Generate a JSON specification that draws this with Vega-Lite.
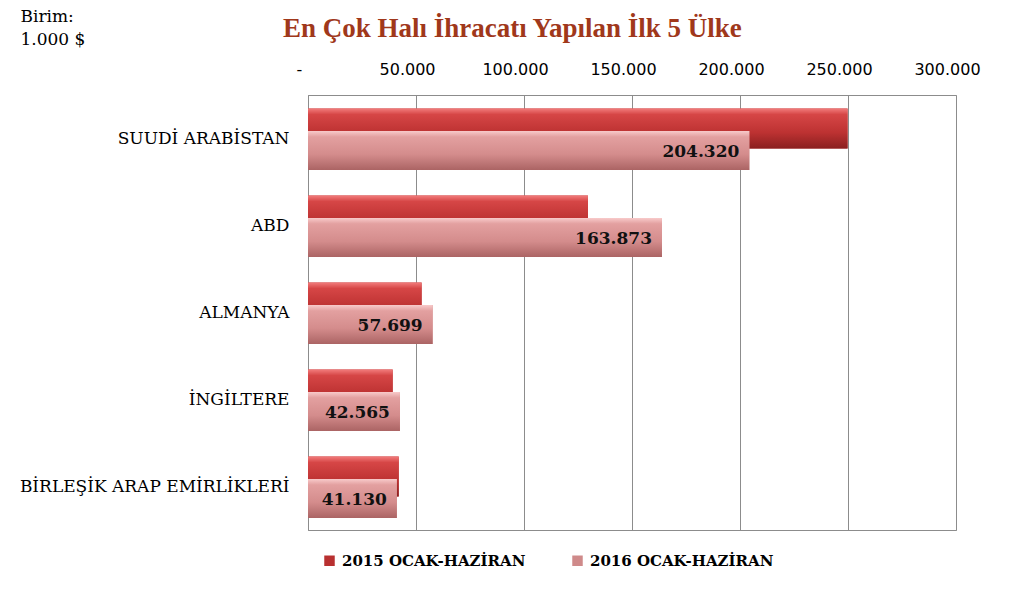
{
  "$schema": "https://vega.github.io/schema/vega-lite/v6.json",
  "width": 648,
  "height": 435,
  "autosize": {"type": "none"},
  "padding": {"left": 308, "top": 95, "right": 57, "bottom": 68},
  "background": "white",
  "config": {
    "locale": {"number": {"decimal": ",", "thousands": ".", "grouping": [3], "currency": ["", " $"]}},
    "view": {"stroke": "#8c8c8c", "strokeWidth": 1}
  },
  "title": {
    "text": "En Çok Halı İhracatı Yapılan İlk 5 Ülke",
    "font": "Liberation Serif",
    "fontSize": 27,
    "fontWeight": "bold",
    "color": "#a0381b",
    "anchor": "start",
    "frame": "group",
    "dx": -25,
    "offset": -36
  },
  "data": {
    "values": [
      {"country": "SUUDİ ARABİSTAN", "period": "2015 OCAK-HAZİRAN", "value": 249800},
      {"country": "ABD", "period": "2015 OCAK-HAZİRAN", "value": 129600},
      {"country": "ALMANYA", "period": "2015 OCAK-HAZİRAN", "value": 52600},
      {"country": "İNGİLTERE", "period": "2015 OCAK-HAZİRAN", "value": 39200},
      {"country": "BİRLEŞİK ARAP EMİRLİKLERİ", "period": "2015 OCAK-HAZİRAN", "value": 42000},
      {"country": "SUUDİ ARABİSTAN", "period": "2016 OCAK-HAZİRAN", "value": 204320},
      {"country": "ABD", "period": "2016 OCAK-HAZİRAN", "value": 163873},
      {"country": "ALMANYA", "period": "2016 OCAK-HAZİRAN", "value": 57699},
      {"country": "İNGİLTERE", "period": "2016 OCAK-HAZİRAN", "value": 42565},
      {"country": "BİRLEŞİK ARAP EMİRLİKLERİ", "period": "2016 OCAK-HAZİRAN", "value": 41130}
    ]
  },
  "encoding": {
    "y": {
      "field": "country",
      "type": "nominal",
      "sort": ["SUUDİ ARABİSTAN", "ABD", "ALMANYA", "İNGİLTERE", "BİRLEŞİK ARAP EMİRLİKLERİ"],
      "scale": {"paddingInner": 0, "paddingOuter": 0},
      "axis": {
        "title": ["Birim:", "1.000 $"],
        "titleAngle": 0,
        "titleX": -288,
        "titleY": -87,
        "titleAlign": "left",
        "titleBaseline": "top",
        "titleFont": "DejaVu Serif",
        "titleFontSize": 17,
        "titleFontWeight": "normal",
        "titleColor": "#000000",
        "titleLineHeight": 23,
        "labelFont": "DejaVu Serif",
        "labelFontSize": 17,
        "labelColor": "#000000",
        "labelPadding": 19,
        "labelLimit": 400,
        "ticks": false,
        "domain": true,
        "domainColor": "#8c8c8c"
      }
    },
    "x": {
      "field": "value",
      "type": "quantitative",
      "scale": {"domain": [0, 300000], "nice": false},
      "axis": {
        "orient": "top",
        "title": null,
        "values": [0, 50000, 100000, 150000, 200000, 250000, 300000],
        "format": ",d",
        "labelExpr": "datum.value == 0 ? '-' : datum.label",
        "labelFont": "DejaVu Sans",
        "labelFontSize": 16,
        "labelColor": "#000000",
        "labelPadding": 18,
        "labelOffset": -9,
        "labelFlush": false,
        "labelOverlap": false,
        "ticks": false,
        "domain": false,
        "grid": true,
        "gridColor": "#8c8c8c",
        "gridOpacity": 1
      }
    }
  },
  "layer": [
    {
      "transform": [{"filter": "datum.period == '2015 OCAK-HAZİRAN'"}],
      "mark": {"type": "bar", "height": 40, "yOffset": -10},
      "encoding": {
        "color": {
          "field": "period",
          "type": "nominal",
          "scale": {
            "domain": ["2015 OCAK-HAZİRAN", "2016 OCAK-HAZİRAN"],
            "range": ["#b83030", "#cf8a8a"]
          },
          "legend": {
            "orient": "none",
            "legendX": 14,
            "legendY": 458,
            "direction": "horizontal",
            "title": null,
            "symbolType": "square",
            "symbolSize": 110,
            "symbolStrokeWidth": 0,
            "symbolOpacity": 1,
            "labelFont": "DejaVu Serif",
            "labelFontSize": 15,
            "labelFontWeight": "bold",
            "labelColor": "#000000",
            "labelOffset": 5,
            "labelLimit": 300,
            "columnPadding": 44
          }
        }
      }
    },
    {
      "transform": [{"filter": "datum.period == '2015 OCAK-HAZİRAN'"}],
      "mark": {
        "type": "bar", "height": 40, "yOffset": -10,
        "fill": {"gradient": "linear", "x1": 0, "y1": 0, "x2": 0, "y2": 1, "stops": [{"offset": 0, "color": "#f27c7c"}, {"offset": 0.15, "color": "#d64646"}, {"offset": 0.6, "color": "#bd3232"}, {"offset": 1, "color": "#8a1f1f"}]}
      },
      "encoding": {}
    },
    {
      "transform": [{"filter": "datum.period == '2016 OCAK-HAZİRAN'"}],
      "mark": {"type": "bar", "height": 39, "yOffset": 12},
      "encoding": {
        "color": {"field": "period", "type": "nominal"}
      }
    },
    {
      "transform": [{"filter": "datum.period == '2016 OCAK-HAZİRAN'"}],
      "mark": {
        "type": "bar", "height": 39, "yOffset": 12,
        "fill": {"gradient": "linear", "x1": 0, "y1": 0, "x2": 0, "y2": 1, "stops": [{"offset": 0, "color": "#f8caca"}, {"offset": 0.15, "color": "#e3a0a0"}, {"offset": 0.6, "color": "#d48c8c"}, {"offset": 1, "color": "#ab6464"}]}
      },
      "encoding": {}
    },
    {
      "transform": [{"filter": "datum.period == '2016 OCAK-HAZİRAN'"}],
      "mark": {"type": "text", "align": "right", "baseline": "middle", "dx": -10, "yOffset": 13, "font": "DejaVu Serif", "fontSize": 17, "fontWeight": "bold", "color": "#111111"},
      "encoding": {
        "text": {"field": "value", "type": "quantitative", "format": ",d"}
      }
    }
  ]
}
